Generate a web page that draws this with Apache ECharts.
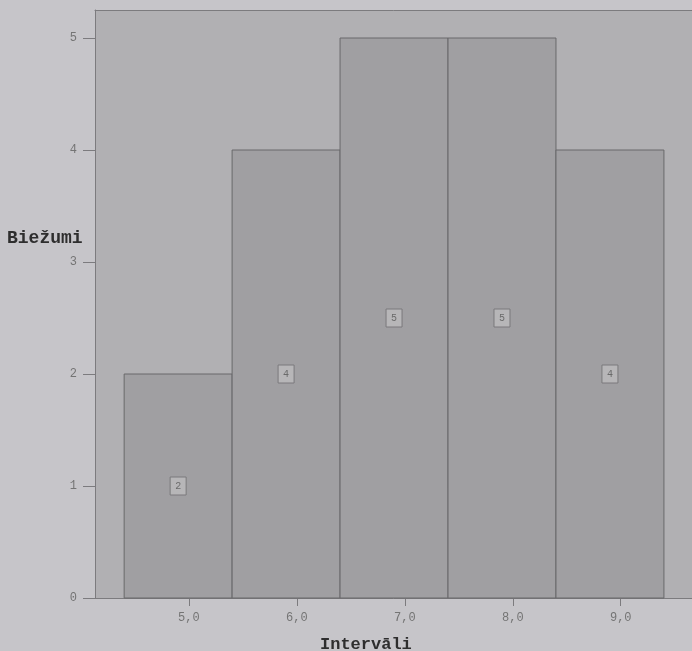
<!DOCTYPE html>
<html><head><meta charset="utf-8">
<script src="https://cdn.jsdelivr.net/npm/echarts@6/dist/echarts.min.js"></script>
<style>html,body{margin:0;padding:0;background:#c6c5c9;}#c{width:692px;height:651px;}</style>
</head><body><div id="c"></div>
<script>
var binStarts = [4.4, 5.4, 6.4, 7.4, 8.4];
var binEnds = [5.4, 6.4, 7.4, 8.4, 9.4];
var counts = [2, 4, 5, 5, 4];
var xTicks = [5, 6, 7, 8, 9];
var yTicks = [0, 1, 2, 3, 4, 5];
var xTitle = 'Intervāli';
var yTitle = 'Biežumi';

var data = counts.map(function (c, i) { return [binStarts[i], binEnds[i], c]; });
var chart = echarts.init(document.getElementById('c'));
chart.setOption({
  backgroundColor: '#c6c5c9',
  animation: false,
  grid: { left: 95, top: 10, right: 0, bottom: 53, show: true, backgroundColor: '#b1b0b3', borderWidth: 0 },
  xAxis: [{
    type: 'value', min: 4.13, max: 9.66,
    splitLine: { show: false },
    axisLine: { lineStyle: { color: '#7c7b7e' } },
    axisTick: { show: true, length: 8, lineStyle: { color: '#7c7b7e' }, customValues: xTicks },
    axisLabel: { customValues: xTicks, color: '#747474', fontFamily: 'Liberation Mono', fontSize: 12, margin: 14,
      formatter: function (v) { return v.toFixed(1).replace('.', ','); } }
  }, {
    type: 'value', position: 'top', min: 4.13, max: 9.66,
    splitLine: { show: false },
    axisLine: { show: true, lineStyle: { color: '#7c7b7e' } },
    axisTick: { show: false }, axisLabel: { show: false }
  }],
  yAxis: {
    type: 'value', min: 0, max: 5.25,
    splitLine: { show: false },
    axisLine: { show: true, lineStyle: { color: '#7c7b7e' } },
    axisTick: { show: true, length: 12, lineStyle: { color: '#7c7b7e' }, customValues: yTicks },
    axisLabel: { customValues: yTicks, color: '#747474', fontFamily: 'Liberation Mono', fontSize: 12, margin: 18 }
  },
  graphic: [
    { type: 'text', left: 7, top: 229, style: { text: yTitle, font: 'bold 18px "Liberation Mono"', fill: '#2e2e2e' } },
    { type: 'text', left: 320, top: 636, style: { text: xTitle, font: 'bold 17px "Liberation Mono"', fill: '#2e2e2e' } }
  ],
  series: [{
    type: 'custom',
    xAxisIndex: 0,
    data: data,
    encode: { x: [0, 1], y: 2 },
    renderItem: function (params, api) {
      var p0 = api.coord([api.value(0), 0]);
      var p1 = api.coord([api.value(1), api.value(2)]);
      var mid = api.coord([(api.value(0) + api.value(1)) / 2, api.value(2) / 2]);
      return {
        type: 'group',
        children: [
          { type: 'rect', shape: { x: p0[0], y: p1[1], width: p1[0] - p0[0], height: p0[1] - p1[1] },
            style: { fill: '#a09fa2', stroke: '#69686b', lineWidth: 1 } },
          { type: 'rect', shape: { x: mid[0] - 8, y: mid[1] - 9, width: 16, height: 18 },
            style: { fill: '#b7b6b8', stroke: '#7a797c', lineWidth: 1 } },
          { type: 'text', x: mid[0], y: mid[1], style: { text: String(api.value(2)), font: '10px "Liberation Mono"', fill: '#6a6a6a', align: 'center', verticalAlign: 'middle' } }
        ]
      };
    }
  }]
});
</script></body></html>
